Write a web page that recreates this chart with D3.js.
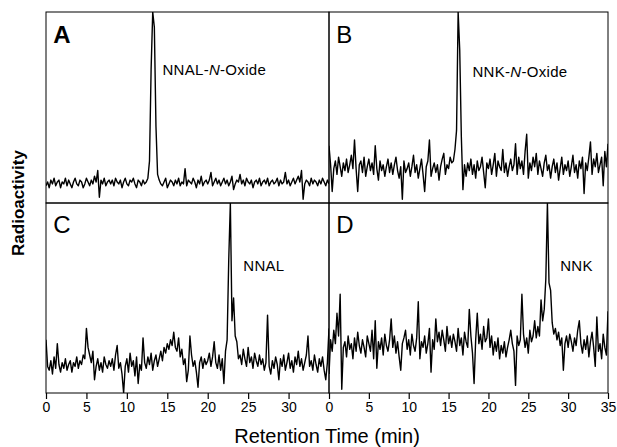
<!DOCTYPE html>
<html>
<head>
<meta charset="utf-8">
<script src="https://cdn.jsdelivr.net/npm/d3@7"></script>
<style>
  body { margin: 0; background: #fff; }
  text { font-family: "Liberation Sans", Arial, sans-serif; fill: #000; }
  .trace { fill: none; stroke: #000; stroke-width: 1.4; stroke-linejoin: round; }
  .frame { fill: none; stroke: #000; stroke-width: 1; }
</style>
</head>
<body>
<svg id="chart" width="617" height="447"></svg>
<script>
// sampling interval of the read-off traces (min)
var sampleStep = 0.2;

var tracesA = [
    9, 11, 8, 12, 10, 13, 9, 11, 12, 8,
    11, 10, 13, 9, 12, 10, 8, 11, 13, 10,
    9, 12, 11, 8, 10, 13, 11, 9, 12, 10,
    14, 11, 17, 3, 12, 10, 13, 9, 11, 12,
    10, 12, 9, 13, 11, 10, 12, 8, 11, 13,
    10, 9, 12, 11, 13, 10, 8, 12, 11, 9,
    12, 10, 11, 13, 22, 70, 100, 92, 40, 15,
    12, 10, 9, 11, 13, 8, 10, 12, 11, 9,
    12, 10, 13, 9, 11, 10, 18, 9, 12, 11,
    10, 13, 11, 8, 12, 10, 14, 9, 11, 12,
    10, 12, 16, 9, 11, 13, 10, 12, 9, 11,
    13, 10, 12, 9, 11, 14, 7, 10, 12, 11,
    15, 10, 12, 9, 13, 11, 10, 12, 8, 11,
    12, 10, 13, 9, 11, 12, 10, 13, 9, 11,
    12, 10, 11, 13, 9, 12, 10, 11, 16, 10,
    12, 9, 11, 13, 10, 12, 14, 11, 17, 2,
    10, 12, 11, 9, 13, 10, 12, 11, 9, 12,
    10, 13, 11, 9, 12, 10
];
var tracesB = [
    30, 20, 6, 18, 22, 15, 24, 19, 14, 21,
    17, 23, 16, 20, 25, 18, 33, 18, 6, 20,
    22, 16, 24, 14, 19, 23, 17, 21, 15, 30,
    18, 12, 22, 17, 20, 14, 19, 23, 16, 21,
    15, 20, 24, 17, 13, 19, 2, 22, 16, 18,
    21, 14, 19, 25, 16, 20, 13, 18, 23, 15,
    6, 19, 22, 33, 14, 18, 21, 16, 20, 12,
    19, 23, 26, 15, 20, 18, 24, 21, 22, 28,
    38, 100, 80, 35, 7, 20, 14, 21, 17, 23,
    15, 20, 13, 22, 17, 19, 24, 16, 8, 21,
    18, 23, 15, 20, 26, 14, 22, 19, 17, 28,
    16, 21, 14, 19, 23, 17, 20, 31, 15, 24,
    18, 22, 15, 27, 36, 13, 21, 17, 24, 19,
    26, 15, 22, 18, 14, 21, 25, 17, 20, 13,
    19, 23, 16, 21, 12, 18, 24, 15, 20, 17,
    22, 14, 19, 25, 16, 20, 13, 22, 18, 24,
    5, 21, 17, 24, 32, 15, 23, 19, 26, 16,
    20, 24, 9, 27, 19, 31
];
var tracesC = [
    28, 14, 12, 17, 10, 19, 13, 26, 15, 11,
    16, 13, 18, 12, 15, 17, 11, 16, 14, 19,
    13, 17, 15, 20, 18, 34, 24, 20, 16, 22,
    7, 14, 18, 12, 16, 11, 19, 15, 13, 17,
    14, 18, 12, 20, 25, 13, 16, 10, 0, 14,
    18, 11, 21, 14, 17, 9, 19, 5, 15, 12,
    29, 16, 13, 19, 15, 21, 12, 17, 20, 14,
    18, 22, 17, 24, 21, 26, 23, 28, 25, 32,
    24, 22, 29, 19, 23, 15, 18, 6, 12, 30,
    20, 14, 17, 11, 3, 16, 19, 13, 18, 15,
    17, 21, 14, 19, 27, 16, 13, 20, 12, 18,
    5, 22, 28, 70, 100, 38, 50, 30, 27, 18,
    20, 15, 23, 18, 14, 24, 16, 19, 13, 21,
    17, 14, 20, 15, 18, 12, 16, 41, 14, 10,
    17, 13, 19, 15, 7, 18, 14, 20, 12, 16,
    21, 13, 17, 11, 19, 15, 22, 14, 18, 12,
    16, 20, 30, 14, 17, 12, 20, 15, 11, 18,
    14, 19, 12, 7, 16, 34
];
var tracesD = [
    10, 28, 22, 33, 26, 42, 30, 52, 2, 24,
    27, 19, 30, 23, 26, 18, 29, 22, 32, 25,
    21, 28, 24, 19, 30, 26, 22, 33, 18, 38,
    13, 27, 23, 29, 20, 31, 25, 22, 28, 39,
    24, 30, 21, 27, 19, 12, 26, 29, 33, 23,
    28, 20, 31, 25, 22, 29, 48, 18, 27, 24,
    30, 21, 26, 34, 11, 28, 23, 39, 27, 32,
    25, 33, 28, 22, 35, 26, 30, 24, 31, 27,
    22, 34, 25, 29, 20, 32, 27, 24, 44, 30,
    21, 5, 28, 42, 26, 31, 23, 35, 27, 29,
    39, 24, 30, 20, 27, 22, 29, 18, 25, 21,
    27, 19, 24, 28, 33, 26, 22, 4, 30, 25,
    28, 52, 31, 24, 29, 21, 33, 27, 30, 38,
    29, 35, 30, 49, 38, 44, 60, 100, 58, 54,
    37, 31, 34, 28, 32, 25, 29, 12, 26, 30,
    24, 31, 27, 22, 29, 25, 33, 38, 26, 21,
    28, 23, 30, 19, 27, 32, 24, 14, 40, 22,
    26, 18, 31, 24, 20, 43
];

var panelLetters = ["A", "B", "C", "D"];
// compound name, the middle part is the italic N
var peakNames = [["NNAL-", "N", "-Oxide"], ["NNK-", "N", "-Oxide"], ["NNAL"], ["NNK"]];
var peakLabelAt = [[14.4, 67], [18.0, 66], [24.4, 64], [29.0, 64]];
var leftTicks = [0, 5, 10, 15, 20, 25, 30];
var rightTicks = [0, 5, 10, 15, 20, 25, 30, 35];

(function chromatograms() {
    var svg = d3.select("#chart");

    var left = 46, mid = 329, right = 608,
        top = 12, row = 203, bottom = 393;

    var xLeft = d3.scaleLinear().domain([0, 35]).range([left, mid]),
        xRight = d3.scaleLinear().domain([0, 35]).range([mid, right]),
        yTop = d3.scaleLinear().domain([0, 100]).range([row, top]),
        yBottom = d3.scaleLinear().domain([0, 100]).range([bottom, row]);

    var panels = [
        {x: xLeft, y: yTop, values: tracesA},
        {x: xRight, y: yTop, values: tracesB},
        {x: xLeft, y: yBottom, values: tracesC},
        {x: xRight, y: yBottom, values: tracesD}
    ];

    panels.forEach(function (p, i) {
        var x0 = p.x.range()[0], x1 = p.x.range()[1],
            y0 = p.y.range()[1], y1 = p.y.range()[0];

        svg.append("clipPath")
            .attr("id", "clip" + i)
            .append("rect")
            .attr("x", x0).attr("y", y0)
            .attr("width", x1 - x0).attr("height", y1 - y0);

        var line = d3.line()
            .x(function (d, j) { return p.x(j * sampleStep); })
            .y(function (d) { return p.y(d); });

        svg.append("path")
            .datum(p.values)
            .attr("class", "trace")
            .attr("clip-path", "url(#clip" + i + ")")
            .attr("d", line);

        svg.append("rect")
            .attr("class", "frame")
            .attr("x", x0).attr("y", y0)
            .attr("width", x1 - x0).attr("height", y1 - y0);

        svg.append("text")
            .attr("x", p.x(0.9))
            .attr("y", p.y(84))
            .style("font-size", "24px")
            .style("font-weight", i === 0 ? "bold" : "normal")
            .text(panelLetters[i]);

        var label = svg.append("text")
            .attr("x", p.x(peakLabelAt[i][0]))
            .attr("y", p.y(peakLabelAt[i][1]))
            .style("font-size", "15px")
            .style("letter-spacing", "0.3px");
        peakNames[i].forEach(function (s, k) {
            label.append("tspan")
                .style("font-style", k === 1 ? "italic" : "normal")
                .text(s);
        });
    });

    svg.append("g")
        .attr("transform", "translate(0," + bottom + ")")
        .call(d3.axisBottom(xLeft).tickValues(leftTicks).tickSize(6).tickPadding(3))
        .call(function (g) { g.select(".domain").remove(); });

    svg.append("g")
        .attr("transform", "translate(0," + bottom + ")")
        .call(d3.axisBottom(xRight).tickValues(rightTicks).tickSize(6).tickPadding(3))
        .call(function (g) { g.select(".domain").remove(); });

    svg.selectAll(".tick text")
        .style("font-size", "14px")
        .style("font-family", "'Liberation Sans', Arial, sans-serif");
    svg.selectAll(".tick line").attr("stroke-width", 1.2);

    svg.append("text")
        .attr("x", 327)
        .attr("y", 443)
        .attr("text-anchor", "middle")
        .style("font-size", "20px")
        .text("Retention Time (min)");

    svg.append("text")
        .attr("transform", "translate(24," + row + ") rotate(-90)")
        .attr("text-anchor", "middle")
        .style("font-size", "17px")
        .style("font-weight", "bold")
        .text("Radioactivity");
}());
</script>
</body>
</html>
